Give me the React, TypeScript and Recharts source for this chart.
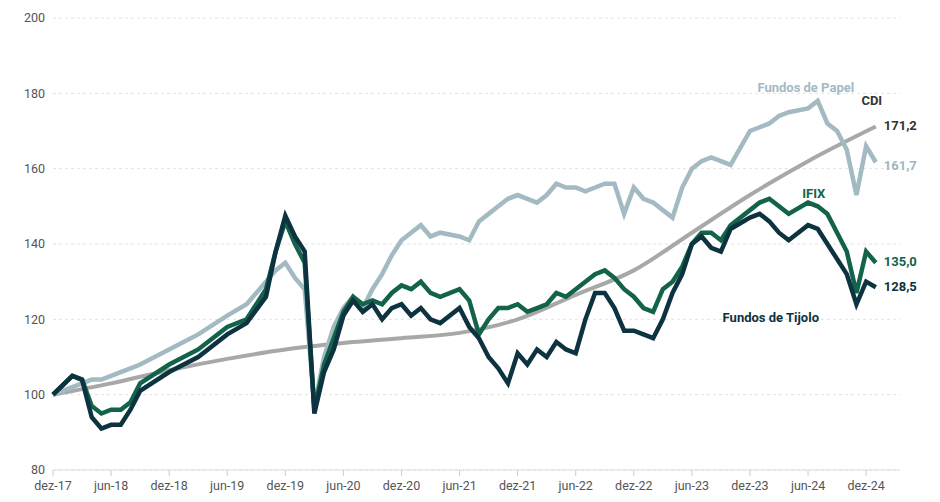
import React from "react";
import { LineChart, Line, XAxis, YAxis, CartesianGrid, LabelList } from "recharts";

// month index: 0 = dez-17
const months = [0, 2, 3, 4, 5, 6, 7, 8, 9, 12, 15, 18, 20, 22, 23, 24, 25, 26, 27, 28, 29, 30, 31, 32, 33, 34, 35, 36, 37, 38, 39, 40, 42, 43, 44, 45, 46, 47, 48, 49, 50, 51, 52, 53, 54, 55, 56, 57, 58, 59, 60, 61, 62, 63, 64, 65, 66, 67, 68, 69, 70, 72, 73, 74, 75, 76, 78, 79, 80, 81, 82, 83, 84, 85];
const papel = [100, 102, 103, 104, 104, 105, 106, 107, 108, 112, 116, 121, 124, 130, 133, 135, 131, 128, 97, 110, 118, 123, 126, 123, 128, 132, 137, 141, 143, 145, 142, 143, 142, 141, 146, 148, 150, 152, 153, 152, 151, 153, 156, 155, 155, 154, 155, 156, 156, 148, 155, 152, 151, 149, 147, 155, 160, 162, 163, 162, 161, 170, 171, 172, 174, 175, 176, 178, 172, 170, 165, 153, 166, 161.7];
const ifix = [100, 105, 104, 97, 95, 96, 96, 98, 103, 108, 112, 118, 120, 128, 138, 146, 140, 135, 96, 108, 115, 122, 126, 124, 125, 124, 127, 129, 128, 130, 127, 126, 128, 125, 116, 120, 123, 123, 124, 122, 123, 124, 127, 126, 128, 130, 132, 133, 131, 128, 126, 123, 122, 128, 130, 134, 140, 143, 143, 141, 145, 149, 151, 152, 150, 148, 151, 150, 148, 143, 138, 127, 138, 135.0];
const tijolo = [100, 105, 104, 94, 91, 92, 92, 96, 101, 106, 110, 116, 119, 126, 138, 147.5, 142, 138, 95, 106, 112, 121, 125, 122, 124, 120, 123, 124, 121, 123, 120, 119, 123, 118, 115, 110, 107, 103, 111, 108, 112, 110, 114, 112, 111, 120, 127, 127, 123, 117, 117, 116, 115, 120, 127, 132, 140, 142, 139, 138, 144, 147, 148, 146, 143, 141, 145, 144, 140, 136, 132, 124, 130, 128.5];
const cdiMonths = [0, 6, 12, 18, 24, 30, 36, 42, 48, 54, 60, 66, 72, 78, 85];
const cdiValues = [100, 103, 106.5, 109.5, 112, 113.7, 115, 116.4, 120, 126.5, 133, 143, 153, 162, 171.2];

const xTicks = [0, 6, 12, 18, 24, 30, 36, 42, 48, 54, 60, 66, 72, 78, 84];
const xTickLabels = ["dez-17", "jun-18", "dez-18", "jun-19", "dez-19", "jun-20", "dez-20", "jun-21", "dez-21", "jun-22", "dez-22", "jun-23", "dez-23", "jun-24", "dez-24"];
const yTicks = [80, 100, 120, 140, 160, 180, 200];

const funds = months.map((m, i) => ({ m, papel: papel[i], ifix: ifix[i], tijolo: tijolo[i] }));
const cdi = cdiMonths.map((m, i) => ({ m, cdi: cdiValues[i] }));

const fmt = (v: number) => v.toFixed(1).replace(".", ",");

function endLabel(name: string, color: string, nameDx: number, nameDy: number, valDy: number, nameColor: string) {
  return (props: any) => {
    const { x, y, index, value } = props;
    if (index !== months.length - 1 && !(name === "CDI" && index === cdiMonths.length - 1)) return null;
    return (
      <g fontFamily="Roboto" fontWeight={700} fontSize={13}>
        <text x={x + 8} y={y + valDy} fill={color} dominantBaseline="middle">{fmt(value)}</text>
        <text x={x + nameDx} y={y + nameDy} fill={nameColor} textAnchor="middle" dominantBaseline="middle">{name}</text>
      </g>
    );
  };
}

export default function App() {
  return (
    <LineChart width={924} height={494} margin={{ top: 10, right: 32, bottom: 4, left: 5 }}>
      <CartesianGrid vertical={false} stroke="#e2e2e2" strokeDasharray="3 3" />
      <XAxis type="number" dataKey="m" domain={[0, 87.5]} ticks={xTicks} allowDuplicatedCategory={false}
        tickFormatter={(v: number) => xTickLabels[xTicks.indexOf(v)]}
        tick={{ fill: "#555", fontSize: 12.5, fontFamily: "Roboto" }} stroke="#ddd" tickLine={{ stroke: "#ccc" }}
        tickMargin={5} height={28} />
      <YAxis domain={[80, 200]} ticks={yTicks} width={40} axisLine={false} tickLine={false}
        tick={{ fill: "#555", fontSize: 12.5, fontFamily: "Roboto" }} />
      <Line data={cdi} dataKey="cdi" type="monotone" stroke="#a8a8a8" strokeWidth={4} dot={false} isAnimationActive={false}>
        <LabelList dataKey="cdi" content={endLabel("CDI", "#333", -4, -25, 0, "#333")} />
      </Line>
      <Line data={funds} dataKey="papel" type="linear" stroke="#a3bac3" strokeWidth={4.5} dot={false} isAnimationActive={false}>
        <LabelList dataKey="papel" content={endLabel("Fundos de Papel", "#9fb5bf", -70, -74, 4, "#a3bac3")} />
      </Line>
      <Line data={funds} dataKey="ifix" type="linear" stroke="#13634a" strokeWidth={4.5} dot={false} isAnimationActive={false}>
        <LabelList dataKey="ifix" content={endLabel("IFIX", "#13634a", -62, -68, 0, "#13634a")} />
      </Line>
      <Line data={funds} dataKey="tijolo" type="linear" stroke="#0d3340" strokeWidth={4.5} dot={false} isAnimationActive={false}>
        <LabelList dataKey="tijolo" content={endLabel("Fundos de Tijolo", "#0d3340", -105, 31, 0, "#0d3340")} />
      </Line>
    </LineChart>
  );
}
